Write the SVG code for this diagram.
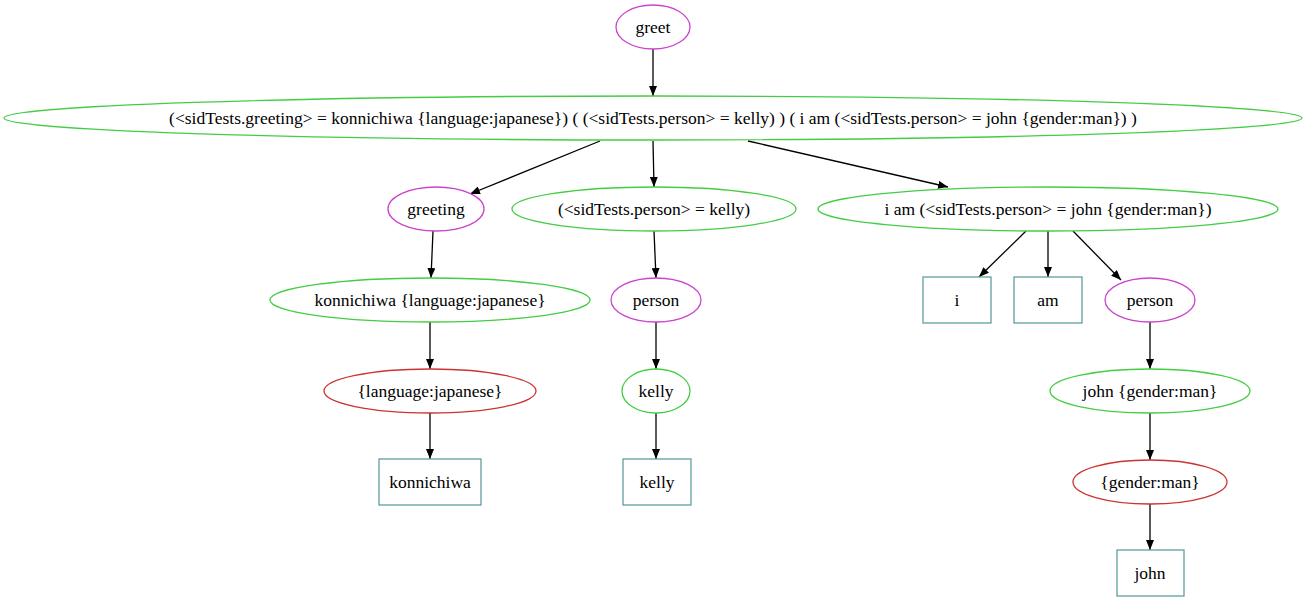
<svg xmlns="http://www.w3.org/2000/svg" width="1309" height="602" viewBox="0 0 1309 602">
<style>
text{font-size:17.5px;fill:#000;text-anchor:middle;dominant-baseline:central}
.rule{fill:#fff;stroke:#cc44cc;stroke-width:1.3}
.alt{fill:#fff;stroke:#44cc44;stroke-width:1.3}
.tag{fill:#fff;stroke:#cc3333;stroke-width:1.3}
.tok{fill:#fff;stroke:#5f9ea0;stroke-width:1.3}
.edge{stroke:#000;stroke-width:1.3;fill:none;marker-end:url(#ah)}
</style>
<defs>
<marker id="ah" markerWidth="10" markerHeight="8" refX="10" refY="4" orient="auto" markerUnits="userSpaceOnUse">
<path d="M0,0 L10,4 L0,8 Z" fill="#000"/>
</marker>
</defs>
<rect width="1309" height="602" fill="#fff"/>
<g id="connectors">
<line class="edge" x1="653" y1="49" x2="653" y2="96"/>
<line class="edge" x1="600" y1="141" x2="470" y2="194"/>
<line class="edge" x1="653" y1="141" x2="654" y2="187"/>
<line class="edge" x1="748" y1="141" x2="948" y2="187"/>
<line class="edge" x1="433" y1="231" x2="431" y2="278"/>
<line class="edge" x1="654" y1="231" x2="656" y2="278"/>
<line class="edge" x1="1026" y1="231" x2="979" y2="277"/>
<line class="edge" x1="1048" y1="231" x2="1048" y2="277"/>
<line class="edge" x1="1073" y1="231" x2="1121" y2="280"/>
<line class="edge" x1="430" y1="322" x2="430" y2="369"/>
<line class="edge" x1="656" y1="322" x2="656" y2="369"/>
<line class="edge" x1="1150" y1="322" x2="1150" y2="369"/>
<line class="edge" x1="430" y1="413" x2="430" y2="459"/>
<line class="edge" x1="656" y1="413" x2="656" y2="459"/>
<line class="edge" x1="1150" y1="413" x2="1150" y2="460"/>
<line class="edge" x1="1150" y1="504" x2="1150" y2="550"/>
</g>
<g id="nodes" font-family="Liberation Serif, Times New Roman, serif">
<g id="n_greet"><ellipse class="rule" cx="653" cy="27" rx="37" ry="22"/><text x="653" y="27">greet</text></g>
<g id="n_top"><ellipse class="alt" cx="653" cy="118" rx="649" ry="22"/><text x="653" y="118">(&lt;sidTests.greeting&gt; = konnichiwa {language:japanese}) ( (&lt;sidTests.person&gt; = kelly) ) ( i am (&lt;sidTests.person&gt; = john {gender:man}) )</text></g>
<g id="n_greeting"><ellipse class="rule" cx="436" cy="209" rx="48" ry="22"/><text x="436" y="209">greeting</text></g>
<g id="n_kellyalt"><ellipse class="alt" cx="654" cy="209" rx="142" ry="22"/><text x="654" y="209">(&lt;sidTests.person&gt; = kelly)</text></g>
<g id="n_iam"><ellipse class="alt" cx="1048" cy="209" rx="230" ry="22"/><text x="1048" y="209">i am (&lt;sidTests.person&gt; = john {gender:man})</text></g>
<g id="n_konalt"><ellipse class="alt" cx="430" cy="300" rx="160" ry="22"/><text x="430" y="300">konnichiwa {language:japanese}</text></g>
<g id="n_person1"><ellipse class="rule" cx="656" cy="300" rx="45" ry="22"/><text x="656" y="300">person</text></g>
<g id="n_i"><rect class="tok" x="923" y="277" width="68" height="46"/><text x="957" y="300">i</text></g>
<g id="n_am"><rect class="tok" x="1014" y="277" width="68" height="46"/><text x="1048" y="300">am</text></g>
<g id="n_person2"><ellipse class="rule" cx="1150" cy="300" rx="45" ry="22"/><text x="1150" y="300">person</text></g>
<g id="n_langtag"><ellipse class="tag" cx="430" cy="391" rx="106" ry="22"/><text x="430" y="391">{language:japanese}</text></g>
<g id="n_kellyalt2"><ellipse class="alt" cx="656" cy="391" rx="34" ry="22"/><text x="656" y="391">kelly</text></g>
<g id="n_johnalt"><ellipse class="alt" cx="1150" cy="391" rx="100" ry="22"/><text x="1150" y="391">john {gender:man}</text></g>
<g id="n_kon"><rect class="tok" x="379" y="459" width="102" height="46"/><text x="430" y="482">konnichiwa</text></g>
<g id="n_kelly"><rect class="tok" x="623" y="459" width="68" height="46"/><text x="657" y="482">kelly</text></g>
<g id="n_gendertag"><ellipse class="tag" cx="1150" cy="482" rx="77" ry="22"/><text x="1150" y="482">{gender:man}</text></g>
<g id="n_john"><rect class="tok" x="1117" y="550" width="67" height="46"/><text x="1150" y="573">john</text></g>
</g>
</svg>
